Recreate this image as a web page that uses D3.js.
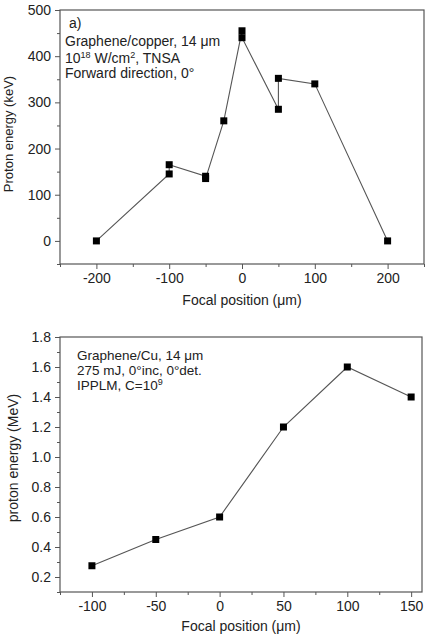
<!DOCTYPE html>
<html lang="en">
<head>
    <meta charset="UTF-8">
    <title>Proton energy vs focal position</title>
    <script src="https://d3js.org/d3.v7.min.js"></script>
    <style>
        body { margin: 0; background: #fff; }
        text { font-family: "Liberation Sans", Arial, sans-serif; fill: #222; }
    </style>
</head>
<body>
    <svg id="chart" width="425" height="637"></svg>

    <script>
        // panel a) TNSA, keV
        var topFocal = [-200, -100, -100, -50, -50, -25, 0, 0, 50, 50, 100, 200];
        var topEnergy = [0, 145, 165, 140, 135, 260, 455, 440, 285, 352, 340, 0];
        var topXTicks = [-200, -100, 0, 100, 200];
        var topYTicks = [0, 100, 200, 300, 400, 500];

        // panel b) IPPLM, MeV
        var botFocal = [-100, -50, 0, 50, 100, 150];
        var botEnergy = [0.275, 0.45, 0.6, 1.2, 1.6, 1.4];
        var botXTicks = [-100, -50, 0, 50, 100, 150];
        var botYTicks = [0.2, 0.4, 0.6, 0.8, 1.0, 1.2, 1.4, 1.6, 1.8];

        const svg = d3.select("#chart");
        const axisColor = "#555";
        const hyphen = d => String(d); // plain "-" like the original figure

        function panel(opt) {
            const g = svg.append("g");
            const x = d3.scaleLinear().domain(opt.xDomain).range([opt.left, opt.right]);
            const y = d3.scaleLinear().domain(opt.yDomain).range([opt.bottom, opt.top]);

            // minor ticks first
            g.append("g")
                .attr("transform", `translate(0, ${opt.bottom})`)
                .call(d3.axisBottom(x).tickValues(opt.xMinor).tickSize(3).tickFormat(""));
            g.append("g")
                .attr("transform", `translate(${opt.left}, 0)`)
                .call(d3.axisLeft(y).tickValues(opt.yMinor).tickSize(3).tickFormat(""));

            const xa = g.append("g")
                .attr("transform", `translate(0, ${opt.bottom})`)
                .call(d3.axisBottom(x).tickValues(opt.xTicks).tickSize(5).tickPadding(4).tickFormat(hyphen));
            xa.selectAll("text").style("font-size", "14px");

            const ya = g.append("g")
                .attr("transform", `translate(${opt.left}, 0)`)
                .call(d3.axisLeft(y).tickValues(opt.yTicks).tickSize(5).tickPadding(4).tickFormat(opt.yFormat));
            ya.selectAll("text").style("font-size", "14px");

            g.selectAll(".domain").remove();
            g.selectAll(".tick line").attr("stroke", axisColor);
            g.selectAll(".tick text").attr("fill", "#222");

            g.append("rect")
                .attr("x", opt.left).attr("y", opt.top)
                .attr("width", opt.right - opt.left)
                .attr("height", opt.bottom - opt.top)
                .attr("fill", "none")
                .attr("stroke", axisColor)
                .attr("stroke-width", 1.2);

            const pts = opt.xs.map((v, i) => [v, opt.ys[i]]);
            g.append("path")
                .datum(pts)
                .attr("fill", "none")
                .attr("stroke", "#555")
                .attr("stroke-width", 1.1)
                .attr("d", d3.line().x(d => x(d[0])).y(d => y(d[1])));

            g.selectAll(".pt")
                .data(pts)
                .enter()
                .append("rect")
                .attr("x", d => x(d[0]) - 3.5)
                .attr("y", d => y(d[1]) - 3.5)
                .attr("width", 7)
                .attr("height", 7)
                .attr("fill", "#000");

            g.append("text")
                .attr("x", (opt.left + opt.right) / 2)
                .attr("y", opt.xTitleY)
                .attr("text-anchor", "middle")
                .style("font-size", "14px")
                .text("Focal position (\u03bcm)");

            g.append("text")
                .attr("transform", `translate(${opt.yTitleX}, ${opt.yTitleCY}) rotate(-90)`)
                .attr("text-anchor", "middle")
                .style("font-size", opt.yTitleSize)
                .text(opt.yTitle);

            return { g, x, y };
        }

        const a = panel({
            left: 60, right: 424, top: 10, bottom: 264,
            xDomain: [-250, 250], yDomain: [-50, 500],
            xTicks: topXTicks, yTicks: topYTicks,
            xMinor: [-250, -150, -50, 50, 150, 250], yMinor: [-50, 50, 150, 250, 350, 450],
            yFormat: d3.format("d"),
            xs: topFocal, ys: topEnergy,
            xTitleY: 305, yTitle: "Proton energy (keV)", yTitleX: 13, yTitleCY: 134, yTitleSize: "13px"
        });

        const notesA = a.g.append("g").style("font-size", "14px");
        notesA.append("text").attr("x", 69).attr("y", 28).text("a)");
        notesA.append("text").attr("x", 65).attr("y", 46).text("Graphene/copper, 14 \u03bcm");
        const la = notesA.append("text").attr("x", 65).attr("y", 63);
        la.append("tspan").text("10");
        la.append("tspan").attr("dy", -5).style("font-size", "9px").text("18");
        la.append("tspan").attr("dy", 5).text(" W/cm");
        la.append("tspan").attr("dy", -5).style("font-size", "9px").text("2");
        la.append("tspan").attr("dy", 5).text(", TNSA");
        notesA.append("text").attr("x", 65).attr("y", 78).text("Forward direction, 0\u00b0");

        const b = panel({
            left: 60, right: 422, top: 337, bottom: 592,
            xDomain: [-125, 158.5], yDomain: [0.1, 1.8],
            xTicks: botXTicks, yTicks: botYTicks,
            xMinor: [-125, -75, -25, 25, 75, 125], yMinor: [0.1, 0.3, 0.5, 0.7, 0.9, 1.1, 1.3, 1.5, 1.7],
            yFormat: d3.format(".1f"),
            xs: botFocal, ys: botEnergy,
            xTitleY: 631, yTitle: "proton energy (MeV)", yTitleX: 18, yTitleCY: 458, yTitleSize: "14px"
        });

        const notesB = b.g.append("g").style("font-size", "13.5px");
        notesB.append("text").attr("x", 77).attr("y", 360).text("Graphene/Cu, 14 \u03bcm");
        notesB.append("text").attr("x", 77).attr("y", 375).text("275 mJ, 0\u00b0inc, 0\u00b0det.");
        const lb = notesB.append("text").attr("x", 77).attr("y", 390);
        lb.append("tspan").text("IPPLM, C=10");
        lb.append("tspan").attr("dy", -5).style("font-size", "9px").text("9");
    </script>
</body>
</html>
